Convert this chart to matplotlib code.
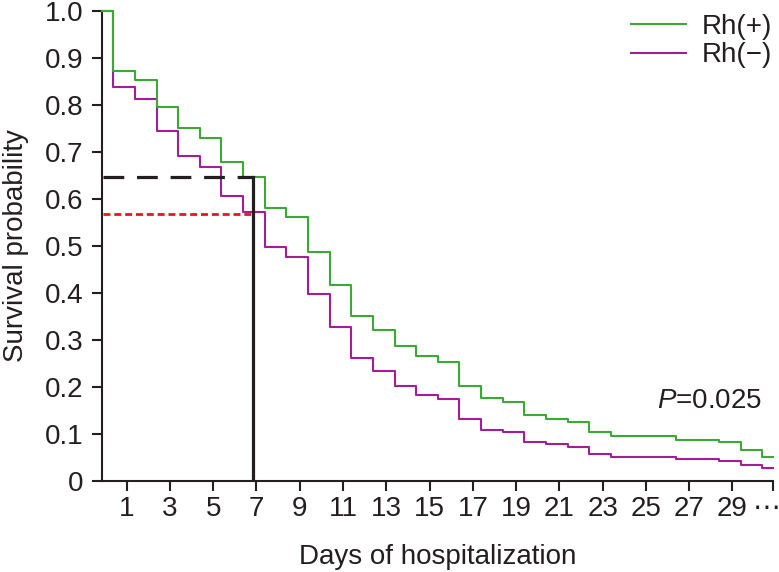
import numpy as np
import matplotlib
matplotlib.use('Agg')
import matplotlib.pyplot as plt
from matplotlib.transforms import ScaledTranslation

plt.rcParams['font.family'] = ['Liberation Sans', 'DejaVu Sans']
plt.rcParams['mathtext.fontset'] = 'custom'
plt.rcParams['mathtext.it'] = 'Liberation Sans:italic'
plt.rcParams['mathtext.rm'] = 'Liberation Sans'

# day on which each drop happens (end of day)
days = [1, 2, 3, 4, 5, 6, 7, 8, 9, 10, 11, 12, 13, 14, 15, 16,
        17, 18, 19, 20, 21, 22, 23, 24, 25, 26, 27, 28, 29, 30, 31]

surv_pos = [0.871, 0.852, 0.794, 0.751, 0.729, 0.678, 0.645, 0.581, 0.560, 0.487,
            0.417, 0.351, 0.320, 0.287, 0.266, 0.253, 0.202, 0.175, 0.167, 0.139,
            0.131, 0.124, 0.103, 0.095, 0.095, 0.095, 0.087, 0.087, 0.081, 0.065,
            0.051]

surv_neg = [0.837, 0.813, 0.744, 0.691, 0.668, 0.606, 0.571, 0.496, 0.475, 0.397,
            0.327, 0.260, 0.233, 0.202, 0.183, 0.173, 0.130, 0.107, 0.1025, 0.081,
            0.077, 0.072, 0.056, 0.051, 0.051, 0.051, 0.046, 0.046, 0.042, 0.033,
            0.026]

tick_days = [1, 3, 5, 7, 9, 11, 13, 15, 17, 19, 21, 23, 25, 27, 29]
tick_labels = ['1', '3', '5', '7', '9', '11', '13', '15', '17', '19', '21',
               '23', '25', '27', '29']

# reference lines (day of hospitalization, survival of each group)
ref_day = 6.82
ref_pos = 0.645
ref_neg = 0.568

green = '#3aa935'
magenta = '#a21d96'
ink = '#231f20'

x0, x1 = -0.156, 30.89
shift = 0.62  # drops fall a bit before the labelled day

fig = plt.figure(figsize=(7.79, 5.72), dpi=100)
ax = fig.add_axes([0.13055, 0.15996, 0.86213, 0.82133])

xs = np.concatenate([[x0], np.array(days) - shift, [x1]])
yp = np.concatenate([[1.0], surv_pos, [surv_pos[-1]]])
yn = np.concatenate([[1.0], surv_neg, [surv_neg[-1]]])

l_neg, = ax.step(xs, yn, where='post', color=magenta, lw=1.5, clip_on=False, zorder=3)
l_pos, = ax.step(xs, yp, where='post', color=green, lw=1.5, clip_on=False, zorder=4)

# median-like reference lines
ax.plot([x0 + 0.08, ref_day + 0.02], [ref_pos, ref_pos], color=ink, lw=2.3,
        dashes=(6.5, 4.0), zorder=5)
ax.plot([x0 + 0.08, ref_day], [ref_neg, ref_neg], color='#e8141e', lw=2.0,
        dashes=(2.5, 1.4), zorder=5)
ax.plot([ref_day, ref_day], [0, ref_pos], color=ink, lw=2.3, zorder=6,
        solid_capstyle='projecting')

ax.set_xlim(x0, x1)
ax.set_ylim(0, 1.0)
ax.set_xticks(tick_days + [x1])
ax.set_xticklabels(tick_labels + ['\u22ef'])
ax.set_yticks(np.arange(0, 1.01, 0.1))
ax.set_yticklabels(['0'] + ['%.1f' % v for v in np.arange(0.1, 1.01, 0.1)])

for s in ['top', 'right']:
    ax.spines[s].set_visible(False)
for s in ['left', 'bottom']:
    ax.spines[s].set_linewidth(1.5)
    ax.spines[s].set_color(ink)
ax.tick_params(direction='out', length=7.2, width=1.5, color=ink,
               labelsize=20, labelcolor=ink)
ax.tick_params(axis='x', pad=4)
ax.tick_params(axis='y', pad=6)

# keep the trailing ellipsis inside the figure
last = ax.get_xticklabels()[-1]
last.set_ha('right')
last.set_transform(last.get_transform() + ScaledTranslation(5 / 72, 0, fig.dpi_scale_trans))

ax.set_xlabel('Days of hospitalization', fontsize=20, color=ink, labelpad=16)
ax.set_ylabel('Survival probability', fontsize=20, color=ink, labelpad=11)

ax.text(x1 - 0.5, 0.17, r'$\it{P}$=0.025', fontsize=20, color=ink,
        ha='right', va='center')

leg = ax.legend([l_pos, l_neg], ['Rh(+)', 'Rh(\u2212)'], loc='upper right',
                bbox_to_anchor=(1.027, 1.035), frameon=False, fontsize=20,
                handlelength=2.0, handletextpad=0.55, labelspacing=0.1,
                borderpad=0.2)
for t in leg.get_texts():
    t.set_color(ink)

fig.savefig('out.png', dpi=100)
